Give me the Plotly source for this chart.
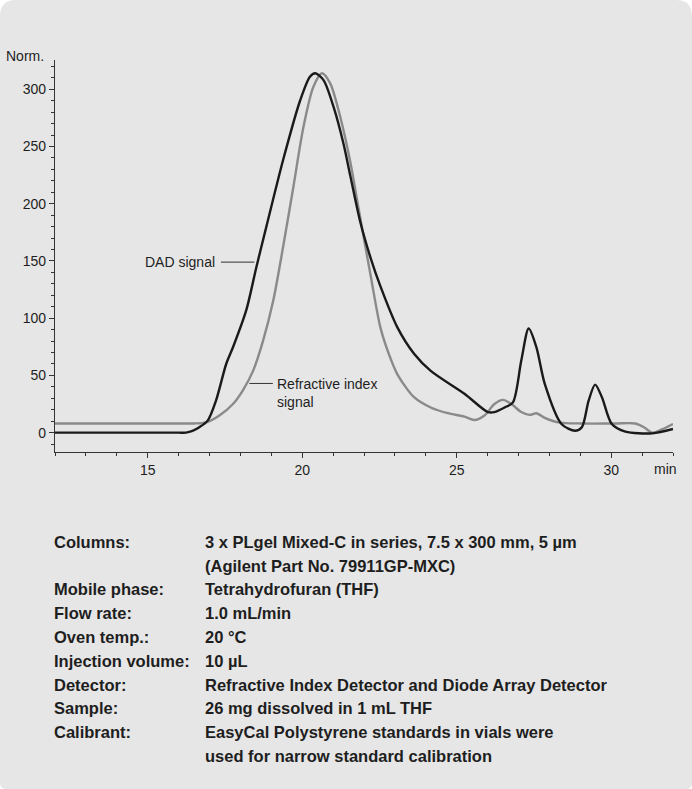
import plotly.graph_objects as go

# Retention time (min) and normalised detector response
dad_time = [12.0, 13.0, 14.0, 15.0, 16.0, 16.24, 16.45, 16.67, 16.94, 17.21, 17.54, 17.76,
            18.19, 18.52, 18.84, 19.38, 19.93, 20.25, 20.42, 20.69, 21.01, 21.34, 21.56,
            21.88, 22.21, 22.53, 23.08, 23.62, 24.16, 25.25, 26.01, 26.22, 26.55, 26.82,
            27.09, 27.33, 27.58, 27.85, 28.39, 28.83, 29.05, 29.27, 29.48, 29.70, 30.02,
            30.46, 31.33, 32.0]
dad_signal = [0, 0, 0, 0, 0, 0, 1.5, 4.7, 10.5, 28, 60, 74.6,
              107, 145, 180, 238, 290, 311, 314, 308, 285, 252, 224,
              184, 153, 128, 92, 69, 54, 34, 18, 18, 22, 26.5,
              63, 91, 74.6, 42.6, 7.6, 1.7, 4.7, 28, 42, 31, 7.6,
              0.9, -0.6, 3.2]

ri_time = [12.0, 13.0, 14.0, 15.0, 16.0, 16.5, 16.89, 17.32, 17.76, 18.08, 18.41, 18.73,
           19.06, 19.38, 19.71, 20.04, 20.36, 20.64, 20.91, 21.23, 21.56, 21.83, 22.21,
           22.53, 22.80, 23.08, 23.62, 24.16, 24.71, 25.25, 25.57, 25.90, 26.22, 26.50,
           26.77, 27.09, 27.36, 27.58, 27.85, 28.29, 29.05, 30.13, 30.78, 31.06, 31.33,
           31.66, 32.0]
ri_signal = [8, 8, 8, 8, 8, 8, 9, 15, 25, 37, 54, 80,
             115, 162, 214, 267, 302, 314, 305, 276, 236, 195, 138,
             92, 69, 51, 31, 22, 17, 14, 11, 15, 25, 28.6,
             25, 18, 15.5, 17, 13, 9, 8, 8, 8, 4.7, 0,
             3, 7.6]

x_ticks = [15, 20, 25, 30]
y_ticks = [0, 50, 100, 150, 200, 250, 300]

conditions = [
    ("Columns:", "3 x PLgel Mixed-C in series, 7.5 x 300 mm, 5 µm"),
    ("", "(Agilent Part No. 79911GP-MXC)"),
    ("Mobile phase:", "Tetrahydrofuran (THF)"),
    ("Flow rate:", "1.0 mL/min"),
    ("Oven temp.:", "20 °C"),
    ("Injection volume:", "10 µL"),
    ("Detector:", "Refractive Index Detector and Diode Array Detector"),
    ("Sample:", "26 mg dissolved in 1 mL THF"),
    ("Calibrant:", "EasyCal Polystyrene standards in vials were"),
    ("", "used for narrow standard calibration"),
]

W, H = 692, 789
M_L, M_R, M_T, M_B = 55, 19, 60, 337
PW, PH = W - M_L - M_R, H - M_T - M_B

FONT = "Liberation Sans, Arial, sans-serif"
TEXT = "#1e1e1e"


def px_x(px):
    return (px - M_L) / PW


def px_y(py):
    return (H - M_B - py) / PH


def rounded_panel(r_top, r_bot):
    x0, x1, y0, y1 = 0, W, 0, H
    pts = [
        f"M {px_x(x0 + r_top)},{px_y(y0)}",
        f"L {px_x(x1 - r_top)},{px_y(y0)}",
        f"Q {px_x(x1)},{px_y(y0)} {px_x(x1)},{px_y(y0 + r_top)}",
        f"L {px_x(x1)},{px_y(y1 - r_bot)}",
        f"Q {px_x(x1)},{px_y(y1)} {px_x(x1 - r_bot)},{px_y(y1)}",
        f"L {px_x(x0 + r_bot)},{px_y(y1)}",
        f"Q {px_x(x0)},{px_y(y1)} {px_x(x0)},{px_y(y1 - r_bot)}",
        f"L {px_x(x0)},{px_y(y0 + r_top)}",
        f"Q {px_x(x0)},{px_y(y0)} {px_x(x0 + r_top)},{px_y(y0)}",
        "Z",
    ]
    return " ".join(pts)


fig = go.Figure()

fig.add_trace(go.Scatter(
    x=ri_time, y=ri_signal, mode="lines",
    line=dict(color="#8a8a8a", width=2.4, shape="spline", smoothing=0.8),
    hoverinfo="skip", showlegend=False,
))
fig.add_trace(go.Scatter(
    x=dad_time, y=dad_signal, mode="lines",
    line=dict(color="#1a1a1a", width=2.4, shape="spline", smoothing=0.8),
    hoverinfo="skip", showlegend=False,
))

shapes = [
    dict(type="path", xref="paper", yref="paper", path=rounded_panel(16, 6),
         fillcolor="#e6e6e6", line=dict(width=0), layer="below"),
    # leader lines for the trace labels
    dict(type="line", xref="x", yref="y", x0=17.37, x1=18.45, y0=149, y1=149,
         line=dict(color="#333333", width=1)),
    dict(type="line", xref="x", yref="y", x0=18.29, x1=19.05, y0=43, y1=43,
         line=dict(color="#333333", width=1)),
]

annotations = [
    dict(text="DAD signal", x=17.25, y=149, xref="x", yref="y", xanchor="right",
         yanchor="middle", showarrow=False, font=dict(family=FONT, size=14, color=TEXT)),
    dict(text="Refractive index<br>signal", x=19.12, y=35, xref="x", yref="y",
         xanchor="left", yanchor="middle", align="left", showarrow=False,
         font=dict(family=FONT, size=14, color=TEXT)),
    dict(text="Norm.", x=px_x(24.7), y=px_y(56), xref="paper", yref="paper",
         xanchor="center", yanchor="middle", showarrow=False,
         font=dict(family=FONT, size=14, color=TEXT)),
    dict(text="min", x=px_x(665), y=px_y(469), xref="paper", yref="paper",
         xanchor="center", yanchor="middle", showarrow=False,
         font=dict(family=FONT, size=14, color=TEXT)),
]

row_y0, row_dy = 541.7, 23.8
for i, (label, value) in enumerate(conditions):
    yy = px_y(row_y0 + i * row_dy)
    if label:
        annotations.append(dict(
            text=label, x=px_x(52), y=yy, xref="paper", yref="paper",
            xanchor="left", yanchor="middle", showarrow=False,
            font=dict(family=FONT, size=16.5, color=TEXT, weight="bold")))
    annotations.append(dict(
        text=value, x=px_x(203), y=yy, xref="paper", yref="paper",
        xanchor="left", yanchor="middle", showarrow=False,
        font=dict(family=FONT, size=16.5, color=TEXT, weight="bold")))

axis_common = dict(
    showgrid=False, zeroline=False, showline=True, linecolor="#333333", linewidth=1.2,
    ticks="outside", ticklen=5, tickwidth=1.2, tickcolor="#333333",
    tickfont=dict(family=FONT, size=14, color=TEXT),
)

fig.update_layout(
    width=W, height=H,
    margin=dict(l=M_L, r=M_R, t=M_T, b=M_B, pad=0),
    paper_bgcolor="white", plot_bgcolor="rgba(0,0,0,0)",
    shapes=shapes, annotations=annotations,
    xaxis=dict(range=[12, 32], tickmode="array", tickvals=x_ticks,
               minor=dict(dtick=1, tick0=12, ticklen=3, ticks="outside",
                          tickcolor="#333333", tickwidth=1),
               **axis_common),
    yaxis=dict(range=[-16.9, 325.6], tickmode="array", tickvals=y_ticks,
               minor=dict(dtick=10, tick0=0, ticklen=3, ticks="outside",
                          tickcolor="#333333", tickwidth=1),
               **axis_common),
)

fig.write_html("out.html")
